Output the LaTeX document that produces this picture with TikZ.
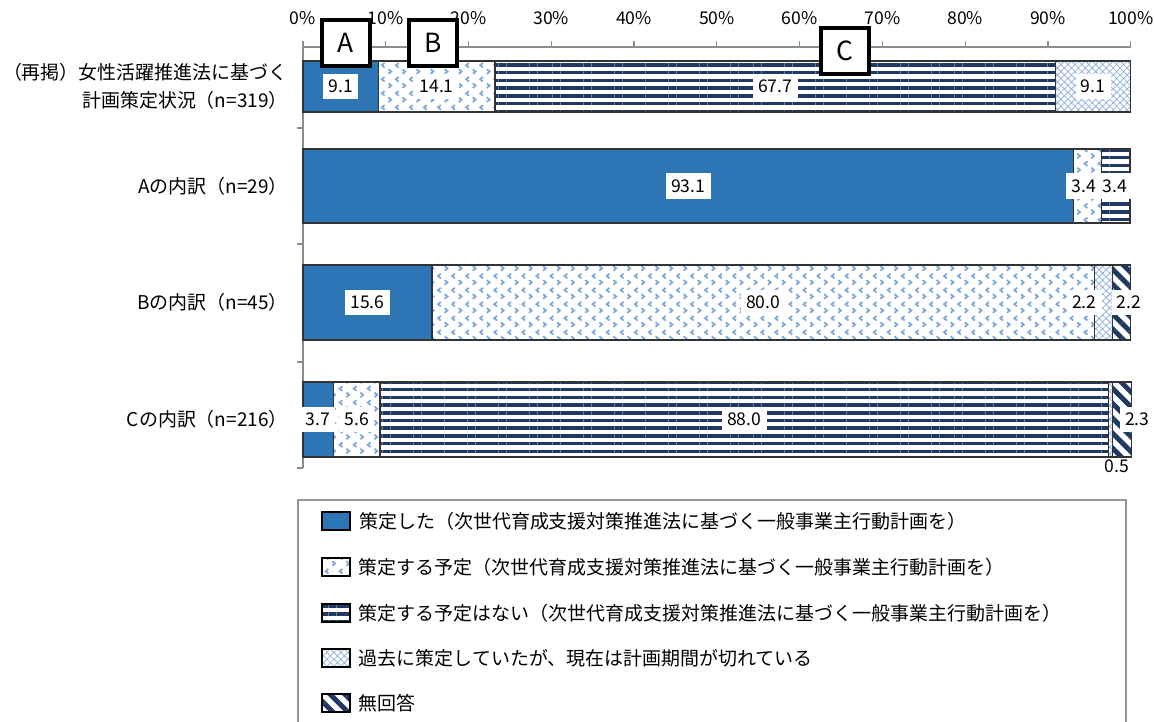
\documentclass[tikz,border=0pt]{standalone}
\usepackage{fontspec}
\setmainfont{Noto Sans CJK JP}
\usetikzlibrary{patterns.meta,positioning}

\definecolor{planblue}{RGB}{46,117,182}
\definecolor{navy}{RGB}{32,56,100}
\definecolor{dotblue}{RGB}{125,168,218}
\definecolor{hatchblue}{RGB}{150,180,225}
\definecolor{axisgray}{RGB}{140,140,140}
\definecolor{framegray}{RGB}{150,150,150}

\newcommand{\numfont}{\fontsize{10}{12}\selectfont}
\newcommand{\jpfont}{\fontsize{10.8}{16}\selectfont}
\newcommand{\tagfont}{\fontsize{15}{18}\selectfont}

% small < and > marks
\tikzdeclarepattern{
  name=chevrons,
  type=uncolored,
  bottom left={(-.1pt,-.1pt)},
  top right={(8.1pt,8.1pt)},
  tile size={(8pt,8pt)},
  code={
    \draw[line width=1pt] (2.9pt,7.1pt) -- (1.3pt,5.8pt) -- (2.9pt,4.5pt);
    \draw[line width=1pt] (5.1pt,3.5pt) -- (6.7pt,2.2pt) -- (5.1pt,0.9pt);
  }
}

\begin{document}
\begin{tikzpicture}[x=0.02cm, y=-0.02cm,
    seg/.style={draw=black!80, line width=0.7pt},
    done/.style={seg, fill=planblue},
    planned/.style={seg, pattern=chevrons, pattern color=dotblue},
    noplan/.style={seg, pattern={Lines[angle=0,distance=4.4pt,line width=2pt]}, pattern color=navy},
    expired/.style={seg, pattern={Hatch[angle=45,distance=2.8pt,line width=0.45pt]}, pattern color=hatchblue},
    noanswer/.style={seg, pattern={Lines[angle=-45,distance=6pt,line width=2.8pt]}, pattern color=navy},
    val/.style={fill=white, inner xsep=3pt, inner ysep=3.5pt, font=\numfont},
    pct/.style={font=\numfont, inner sep=0pt},
    axisline/.style={draw=axisgray, line width=0.7pt},
    cat/.style={anchor=east, align=right, font=\jpfont, inner sep=0pt},
    tag/.style={draw, line width=1.8pt, fill=white, minimum width=0.96cm, minimum height=0.92cm, font=\tagfont, inner sep=0pt},
    swatch/.style={minimum width=0.56cm, minimum height=0.36cm, inner sep=0pt},
    keytext/.style={anchor=west, font=\jpfont, inner sep=0pt}]

  \fill[white] (0,0) rectangle (1154,722);
  \useasboundingbox (0,0) rectangle (1154,722);

  % category labels
  \node[cat] (c1) at (288,86) {（再掲）女性活躍推進法に基づく\\計画策定状況（n=319）};
  \node[cat] (c2) at (288,186) {Aの内訳（n=29）};
  \node[cat] (c3) at (288,302) {Bの内訳（n=45）};
  \node[cat] (c4) at (288,419) {Cの内訳（n=216）};

  \begin{scope}[xshift=6.06cm, x=0.1656cm]
    % axes
    \draw[axisline] (0,47) -- (100,47);
    \foreach \p in {0,10,...,100} {
      \draw[axisline] (\p,41) -- (\p,47);
      \node[pct] (t\p) at (\p,18) {\p\%};
    }
    \draw[axisline] (0,47) -- (0,468);
    \foreach \y in {128,244,362,468}
      \draw[axisline] (-0.72,\y) -- (0,\y);

    % bar 1
    \draw[done] (0,61) rectangle (9.1,112);
    \draw[planned] (9.1,61) rectangle (23.2,112);
    \draw[noplan] (23.2,61) rectangle (90.9,112);
    \draw[expired] (90.9,61) rectangle (100,112);
    \node[val] (v11) at (4.55,86.5) {9.1};
    \node[val] (v12) at (16.15,86.5) {14.1};
    \node[val] (v13) at (57.05,86.5) {67.7};
    \node[val] (v14) at (95.45,86.5) {9.1};

    % bar 2
    \draw[done] (0,149) rectangle (93.1,223);
    \draw[planned] (93.1,149) rectangle (96.5,223);
    \draw[noplan] (96.5,149) rectangle (99.9,223);
    \node[val] (v21) at (46.55,186) {93.1};
    \node[val] (v22) at (94.3,186) {3.4};
    \node[val] (v23) at (98.1,186) {3.4};

    % bar 3
    \draw[done] (0,265) rectangle (15.6,340);
    \draw[planned] (15.6,265) rectangle (95.6,340);
    \draw[expired] (95.6,265) rectangle (97.8,340);
    \draw[noanswer] (97.8,265) rectangle (100,340);
    \node[val] (v31) at (7.8,302.5) {15.6};
    \node[val] (v32) at (55.6,302.5) {80.0};
    \node[val] (v33) at (94.4,302.5) {2.2};
    \node[val] (v34) at (99.8,302.5) {2.2};

    % bar 4
    \draw[done] (0,382) rectangle (3.7,457);
    \draw[planned] (3.7,382) rectangle (9.3,457);
    \draw[noplan] (9.3,382) rectangle (97.3,457);
    \draw[expired] (97.3,382) rectangle (97.8,457);
    \draw[noanswer] (97.8,382) rectangle (100.1,457);
    \node[val] (v41) at (1.8,419.5) {3.7};
    \node[val] (v42) at (6.5,419.5) {5.6};
    \node[val] (v43) at (53.3,419.5) {88.0};
    \node[val, inner ysep=1pt] (v44) at (98.3,466) {0.5};
    \node[val] (v45) at (100.8,419.5) {2.3};
  \end{scope}

  % A, B, C tags
  \node[tag] (A) at (346,43) {A};
  \node[tag] (B) at (433,43) {B};
  \node[tag] (C) at (845,51) {C};

  % legend
  \draw[framegray, line width=0.7pt] (298,500) rectangle (1126,740);
  \node[swatch, done, draw=black, line width=1pt] (k1) at (336,521) {};
  \node[swatch, planned, draw=black] (k2) at (336,567) {};
  \node[swatch, noplan, draw=black] (k3) at (336,613) {};
  \node[swatch, expired, draw=black] (k4) at (336,658) {};
  \node[swatch, noanswer, draw=black] (k5) at (336,703) {};
  \node[keytext, right=0.16cm of k1] (l1) {策定した（次世代育成支援対策推進法に基づく一般事業主行動計画を）};
  \node[keytext, right=0.16cm of k2] (l2) {策定する予定（次世代育成支援対策推進法に基づく一般事業主行動計画を）};
  \node[keytext, right=0.16cm of k3] (l3) {策定する予定はない（次世代育成支援対策推進法に基づく一般事業主行動計画を）};
  \node[keytext, right=0.16cm of k4] (l4) {過去に策定していたが、現在は計画期間が切れている};
  \node[keytext, right=0.16cm of k5] (l5) {無回答};
\end{tikzpicture}
\end{document}
